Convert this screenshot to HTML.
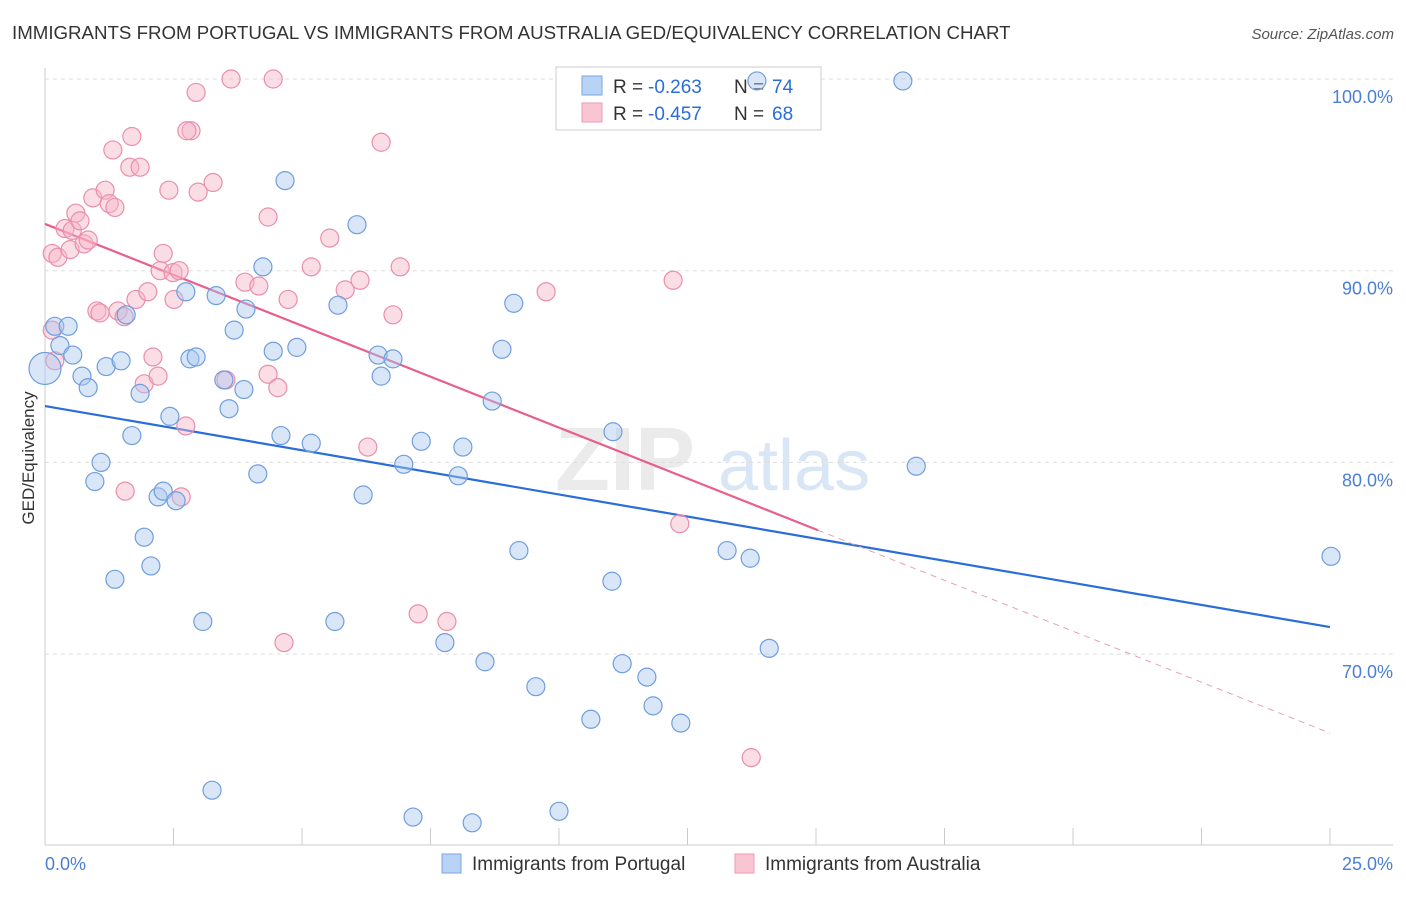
<!DOCTYPE html>
<html><head><meta charset="utf-8"><style>
body{margin:0;background:#fff;font-family:"Liberation Sans",sans-serif;}
svg text{font-family:"Liberation Sans",sans-serif;}
</style></head><body>
<svg id="chart" width="1406" height="892" viewBox="0 0 1406 892" xmlns="http://www.w3.org/2000/svg">
<text x="12" y="39" font-size="18.7" fill="#333">IMMIGRANTS FROM PORTUGAL VS IMMIGRANTS FROM AUSTRALIA GED/EQUIVALENCY CORRELATION CHART</text>
<text x="1394" y="39" font-size="15" fill="#555" text-anchor="end" font-style="italic">Source: ZipAtlas.com</text>
<g>
<text x="555" y="490" font-size="90" fill="#ebebeb" font-family="Liberation Serif" font-weight="bold">ZIP</text>
<text x="718" y="490" font-size="72" fill="#d9e6f5">atlas</text>
</g>
<g id="grid"></g>
<g id="axes"></g>
<g>
<rect x="556" y="67" width="265" height="63" fill="#fff" stroke="#ccc"/>
<rect x="582" y="76" width="20" height="19" fill="#b8d3f5" stroke="#7aa6e0"/>
<rect x="582" y="103" width="20" height="19" fill="#f9c5d3" stroke="#eb9ab0"/>
<text x="613" y="93" font-size="19" fill="#333">R =</text>
<text x="648" y="93" font-size="19" fill="#2a6dd9">-0.263</text>
<text x="734" y="93" font-size="19" fill="#333">N =</text>
<text x="772" y="93" font-size="19" fill="#2a6dd9">74</text>
<text x="613" y="120" font-size="19" fill="#333">R =</text>
<text x="648" y="120" font-size="19" fill="#2a6dd9">-0.457</text>
<text x="734" y="120" font-size="19" fill="#333">N =</text>
<text x="772" y="120" font-size="19" fill="#2a6dd9">68</text>
</g>
<g id="lines"></g>
<g id="points"></g>
<text transform="translate(34,458) rotate(-90)" font-size="17" fill="#333" text-anchor="middle">GED/Equivalency</text>
<text x="45" y="870" font-size="18" fill="#4a7fd4">0.0%</text>
<text x="1393" y="870" font-size="18" fill="#4a7fd4" text-anchor="end">25.0%</text>
<g>
<rect x="442" y="854" width="19" height="19" fill="#b8d3f5" stroke="#7aa6e0"/>
<text x="472" y="870" font-size="19" fill="#333">Immigrants from Portugal</text>
<rect x="735" y="854" width="19" height="19" fill="#f9c5d3" stroke="#eb9ab0"/>
<text x="765" y="870" font-size="19" fill="#333">Immigrants from Australia</text>
</g>
</svg>
<script>
const yTicks=[100,90,80,70];
const yTickLabels=["100.0%","90.0%","80.0%","70.0%"];
const xTicks=[0,2.5,5,7.5,10,12.5,15,17.5,20,22.5,25];
const blueX=[0.19,0.45,0.29,0.54,1.19,1.48,1.58,0.72,0.84,1.09,0.97,1.69,1.85,1.93,1.36,2.06,2.20,2.30,2.55,2.43,2.74,2.82,2.94,3.33,3.48,3.58,3.68,3.87,3.91,4.24,4.44,4.67,4.59,4.90,4.14,5.18,5.70,6.07,6.48,6.54,6.77,6.19,6.98,7.32,8.13,8.04,8.70,8.89,9.12,9.22,3.07,5.64,7.78,8.56,9.55,10.62,11.03,11.05,11.23,11.71,11.83,12.37,13.27,13.72,14.09,13.85,16.69,16.95,25.02,3.25,7.16,8.31,10.0,0];
const blueY=[87.1,87.1,86.1,85.6,85.0,85.3,87.7,84.5,83.9,80.0,79.0,81.4,83.6,76.1,73.9,74.6,78.2,78.5,78.0,82.4,88.9,85.4,85.5,88.7,84.3,82.8,86.9,83.8,88.0,90.2,85.8,94.7,81.4,86.0,79.4,81.0,88.2,92.4,85.6,84.5,85.4,78.3,79.9,81.1,80.8,79.3,83.2,85.9,88.3,75.4,71.7,71.7,70.6,69.6,68.3,66.6,73.8,81.6,69.5,68.8,67.3,66.4,75.4,75.0,70.3,99.9,99.9,79.8,75.1,62.9,61.5,61.2,61.8,84.9];
const pinkX=[0.14,0.25,0.14,0.19,0.39,0.53,0.49,0.60,0.68,0.76,0.84,0.93,1.17,1.25,1.36,1.32,1.69,1.65,1.85,1.01,1.07,1.42,1.54,1.77,2.00,2.30,2.24,2.49,2.61,2.51,2.41,2.84,2.94,2.76,2.98,3.27,3.62,4.44,4.34,3.89,4.16,4.73,5.18,5.54,5.84,6.13,6.54,6.91,6.77,9.75,12.22,2.10,1.93,2.20,2.74,1.56,2.65,3.52,4.34,4.53,6.28,4.65,7.26,7.82,12.35,13.74];
const pinkY=[90.9,90.7,86.9,85.3,92.2,92.1,91.1,93.0,92.6,91.4,91.6,93.8,94.2,93.5,93.3,96.3,97.0,95.4,95.4,87.9,87.8,87.9,87.6,88.5,88.9,90.9,90.0,89.9,90.0,88.5,94.2,97.3,99.3,97.3,94.1,94.6,100.0,100.0,92.8,89.4,89.2,88.5,90.2,91.7,89.0,89.5,96.7,90.2,87.7,88.9,89.5,85.5,84.1,84.5,81.9,78.5,78.2,84.3,84.6,83.9,80.8,70.6,72.1,71.7,76.8,64.6];
const blueLine=[82.94,71.41];
const pinkLine=[92.44,65.88];
const pinkSolidEnd=15.04;

const NS="http://www.w3.org/2000/svg";
const sx=v=>45+v*51.4;
const sy=v=>79+(100-v)*19.17;
function mk(tag,attrs,parent){const e=document.createElementNS(NS,tag);for(const k in attrs)e.setAttribute(k,attrs[k]);document.getElementById(parent).appendChild(e);return e;}

yTicks.forEach((t,i)=>{
  const g=mk('line',{x1:45,x2:1393,y1:sy(t),y2:sy(t),stroke:'#ddd','stroke-dasharray':'4,4'},'grid');
  
  
  const tx=mk('text',{x:1393,y:sy(t)+24,'font-size':18,fill:'#4a7fd4','text-anchor':'end'},'grid');
  tx.textContent=yTickLabels[i];
  
  
});
const ax=mk('line',{x1:45,x2:45,y1:68,y2:845,stroke:'#ccc'},'axes');


const bx=mk('line',{x1:45,x2:1393,y1:845,y2:845,stroke:'#ccc'},'axes');


xTicks.forEach(t=>{
  const l=mk('line',{x1:sx(t),x2:sx(t),y1:828,y2:845,stroke:'#ccc'},'axes');
  
  
});

function dots(X,Y,fill,stroke,name){
  X.forEach((x,i)=>{
    const r=(x===0&&name==='blue-point')?16:9;
    const c=mk('circle',{cx:sx(x),cy:sy(Y[i]),r:r,fill:fill,'fill-opacity':0.45,stroke:stroke,'stroke-width':1.2},'points');
    
    
  });
}
dots(pinkX,pinkY,'#f7b3c6','#e98fab','pink-point');
dots(blueX,blueY,'#a9c8f0','#6f9ede','blue-point');

const bl=mk('line',{x1:sx(0),y1:sy(blueLine[0]),x2:sx(25),y2:sy(blueLine[1]),stroke:'#2a6dd9','stroke-width':2.2},'lines');


const pm=pinkLine[0]+(pinkLine[1]-pinkLine[0])*pinkSolidEnd/25;
const pl=mk('line',{x1:sx(0),y1:sy(pinkLine[0]),x2:sx(pinkSolidEnd),y2:sy(pm),stroke:'#e8608a','stroke-width':2.2},'lines');


const pd=mk('line',{x1:sx(pinkSolidEnd),y1:sy(pm),x2:sx(25),y2:sy(pinkLine[1]),stroke:'#e8a0b6','stroke-width':1,'stroke-dasharray':'6,5'},'lines');


</script>
</body></html>
